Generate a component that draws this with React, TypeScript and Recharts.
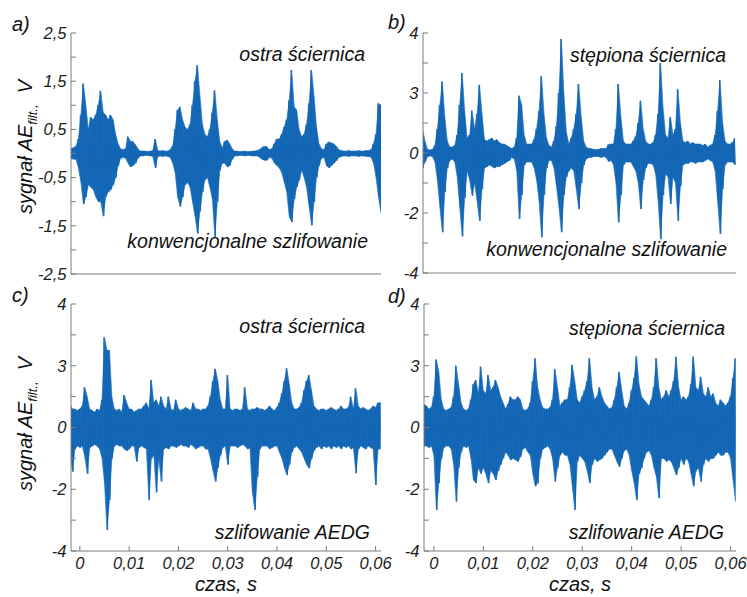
import React from 'react';
import { ComposedChart, Line, Area, XAxis, YAxis } from 'recharts';

// ---- time grid of the envelope samples (s) ----
const T0 = -0.002;
const DT = 0.0005;

// ---- x axis ticks ----
const timeTicks = [0, 0.01, 0.02, 0.03, 0.04, 0.05, 0.06];
const timeTickLabels = ['0', '0,01', '0,02', '0,03', '0,04', '0,05', '0,06'];

// ---- y axis ticks ----
const aTicks = [-2.5, -2, -1.5, -1, -0.5, 0, 0.5, 1, 1.5, 2, 2.5];
const aTickLabels = ['-2,5', '', '-1,5', '', '-0,5', '', '0,5', '', '1,5', '', '2,5'];
const vTicks = [-4, -3, -2, -1, 0, 1, 2, 3, 4];
const vTickLabels = ['-4', '', '-2', '', '0', '', '3', '', '4'];

// ---- a) ostra ściernica, konwencjonalne szlifowanie ----
const aUpper = [
  0.1, 0.1, 0.12, 0.15, 0.3, 0.8, 1.45, 1.0, 0.5, 0.75,
  0.7, 0.8, 1.0, 1.3, 0.85, 0.8, 0.7, 0.8, 0.7, 0.4,
  0.2, 0.1, 0.08, 0.1, 0.35, 0.25, 0.25, 0.18, 0.1, 0.05,
  0.05, 0.05, 0.04, 0.05, 0.06, 0.3, 0.06, 0.05, 0.06, 0.05,
  0.05, 0.08, 0.15, 0.5, 0.9, 0.97, 0.7, 0.55, 0.5, 0.6,
  1.0, 1.5, 1.83, 1.2, 0.6, 0.4, 0.35, 0.5, 0.85, 1.31,
  0.7, 0.25, 0.12, 0.25, 0.28, 0.2, 0.1, 0.05, 0.05, 0.04,
  0.04, 0.05, 0.04, 0.04, 0.05, 0.05, 0.06, 0.08, 0.12, 0.15,
  0.14, 0.08, 0.1, 0.2, 0.3, 0.3, 0.4, 0.55, 0.7, 1.1,
  1.73, 0.97, 0.9, 0.5, 0.35, 0.4, 0.6, 1.04, 1.73, 1.2,
  0.55, 0.2, 0.1, 0.08, 0.2, 0.24, 0.22, 0.2, 0.15, 0.08,
  0.06, 0.05, 0.05, 0.06, 0.05, 0.05, 0.05, 0.06, 0.05, 0.05,
  0.06, 0.06, 0.08, 0.2, 0.4, 1.04, 1.0,
];
const aLower = [
  -0.1, -0.1, -0.12, -0.12, -0.3, -0.6, -1.05, -0.9, -0.65, -0.7,
  -0.75, -0.9, -1.0, -1.0, -1.3, -0.9, -0.8, -0.75, -0.65, -0.5,
  -0.25, -0.1, -0.08, -0.1, -0.2, -0.28, -0.25, -0.2, -0.1, -0.05,
  -0.05, -0.04, -0.04, -0.05, -0.06, -0.3, -0.06, -0.05, -0.06, -0.05,
  -0.06, -0.08, -0.2, -0.4, -0.9, -1.1, -0.9, -0.65, -0.6, -0.7,
  -1.0, -1.3, -1.66, -1.2, -0.8, -0.55, -0.5, -0.7, -0.95, -1.73,
  -1.0, -0.35, -0.2, -0.2, -0.28, -0.25, -0.12, -0.05, -0.05, -0.04,
  -0.04, -0.05, -0.04, -0.04, -0.05, -0.05, -0.05, -0.08, -0.12, -0.14,
  -0.14, -0.08, -0.1, -0.2, -0.25, -0.3, -0.4, -0.6, -0.8, -1.31,
  -1.42, -0.95, -0.7, -0.55, -0.35, -0.5, -0.7, -1.1, -1.49, -1.0,
  -0.5, -0.25, -0.1, -0.08, -0.25, -0.3, -0.25, -0.2, -0.15, -0.08,
  -0.06, -0.05, -0.05, -0.06, -0.05, -0.05, -0.05, -0.06, -0.05, -0.05,
  -0.06, -0.06, -0.08, -0.2, -0.5, -0.9, -1.24,
];

// ---- b) stępiona ściernica, konwencjonalne szlifowanie ----
const bUpper = [
  0.8, 0.4, 0.12, 0.1, 0.12, 0.25, 0.8, 1.6, 2.38, 1.2,
  0.4, 0.2, 0.2, 0.25, 0.6, 1.6, 2.67, 1.4, 0.5, 0.6,
  1.41, 0.8, 1.3, 2.27, 1.3, 0.45, 0.4, 0.45, 0.5, 0.4,
  0.45, 0.35, 0.3, 0.3, 0.25, 0.2, 0.15, 0.2, 0.5, 1.91,
  1.6, 0.6, 0.3, 0.3, 0.3, 0.45, 0.8, 1.4, 2.56, 1.3,
  0.5, 0.25, 0.2, 0.4, 0.9, 2.0, 3.8, 2.0, 0.7, 0.3,
  0.5, 0.8, 1.3, 2.3, 1.2, 0.4, 0.2, 0.15, 0.15, 0.12,
  0.12, 0.12, 0.15, 0.15, 0.15, 0.28, 0.3, 0.3, 0.8, 2.3,
  1.2, 0.4, 0.3, 0.3, 0.3, 0.4, 0.55, 1.0, 1.74, 0.8,
  0.4, 0.3, 0.3, 0.35, 0.6, 1.3, 3.0, 1.5, 0.6, 0.5,
  1.2, 0.6, 0.8, 2.13, 1.0, 0.4, 0.35, 0.4, 0.3, 0.35,
  0.3, 0.3, 0.3, 0.25, 0.3, 0.2, 0.25, 0.3, 0.6, 1.4,
  2.43, 1.0, 0.4, 0.3, 0.3, 0.35, 0.5,
];
const bLower = [
  -0.5, -0.3, -0.12, -0.1, -0.12, -0.3, -0.9, -1.8, -2.64, -1.3,
  -0.5, -0.25, -0.2, -0.3, -0.8, -1.8, -2.78, -1.5, -0.6, -0.9,
  -1.42, -1.0, -1.6, -2.26, -1.2, -0.5, -0.45, -0.4, -0.45, -0.5,
  -0.45, -0.45, -0.4, -0.35, -0.3, -0.25, -0.15, -0.2, -0.6, -2.2,
  -1.4, -0.4, -0.3, -0.3, -0.3, -0.5, -0.9, -1.6, -2.81, -1.4,
  -0.5, -0.25, -0.25, -0.5, -1.1, -1.8, -2.64, -1.4, -0.8, -0.6,
  -0.5, -0.6, -1.2, -1.87, -1.0, -0.4, -0.2, -0.15, -0.15, -0.12,
  -0.12, -0.12, -0.15, -0.12, -0.15, -0.28, -0.25, -0.4, -1.0, -2.31,
  -1.4, -0.4, -0.3, -0.3, -0.3, -0.45, -0.6, -1.0, -1.87, -0.9,
  -0.5, -0.35, -0.35, -0.4, -0.7, -1.6, -2.87, -1.4, -0.7, -0.8,
  -1.7, -0.8, -1.0, -2.26, -1.1, -0.4, -0.35, -0.35, -0.3, -0.3,
  -0.35, -0.3, -0.3, -0.3, -0.25, -0.2, -0.25, -0.3, -0.6, -1.6,
  -2.7, -1.2, -0.4, -0.3, -0.3, -0.3, -0.4,
];

// ---- c) ostra ściernica, szlifowanie AEDG ----
const cUpper = [
  0.75, 0.6, 0.6, 0.55, 0.6, 0.7, 1.3, 1.0, 0.6, 0.55,
  0.5, 0.6, 0.55, 0.9, 2.92, 2.5, 2.5, 1.0, 0.6, 0.55,
  0.6, 0.5, 1.05, 0.8, 0.6, 0.6, 0.5, 0.55, 0.6, 0.6,
  0.7, 0.8, 0.6, 1.54, 0.8, 0.9, 0.7, 1.0, 0.7, 0.6,
  1.0, 0.6, 0.55, 0.9, 0.6, 0.55, 0.6, 0.65, 0.6, 0.55,
  0.8, 0.6, 0.6, 0.55, 0.6, 0.6, 0.7, 1.0, 1.5, 1.9,
  1.5, 0.9, 0.6, 0.6, 1.7, 0.6, 0.55, 0.6, 0.6, 0.55,
  0.6, 1.3, 0.6, 0.55, 0.6, 0.6, 0.65, 0.6, 0.6, 0.55,
  0.6, 0.7, 0.6, 0.55, 0.65, 0.8, 1.1, 1.5, 1.92, 1.4,
  0.8, 0.6, 0.6, 0.65, 0.8, 1.2, 1.5, 1.7, 1.2, 0.7,
  0.6, 0.55, 0.6, 0.6, 0.55, 0.6, 0.65, 0.6, 0.55, 0.6,
  0.7, 0.6, 0.6, 0.65, 1.0, 0.6, 1.27, 0.7, 0.6, 0.65,
  0.6, 0.55, 0.6, 0.7, 0.65, 0.8, 0.8,
];
const cLower = [
  -0.7, -1.43, -0.7, -0.6, -0.65, -0.6, -0.95, -1.5, -0.65, -0.6,
  -0.55, -0.6, -0.7, -1.0, -1.8, -3.32, -2.35, -1.0, -0.6, -0.55,
  -0.6, -0.6, -0.7, -0.75, -0.7, -0.6, -0.6, -1.1, -0.65, -0.6,
  -0.65, -0.7, -2.35, -1.0, -0.9, -2.1, -1.0, -1.75, -0.7, -0.65,
  -0.7, -0.6, -0.6, -0.65, -0.6, -0.55, -0.6, -0.6, -0.65, -0.55,
  -0.6, -0.7, -0.65, -0.6, -0.6, -0.7, -0.7, -1.0, -1.4, -1.75,
  -1.3, -0.9, -0.65, -0.6, -1.2, -0.6, -0.6, -0.6, -0.65, -0.6,
  -0.55, -0.6, -0.7, -0.65, -2.1, -2.67, -1.6, -0.7, -0.6, -0.6,
  -0.6, -0.7, -0.65, -0.6, -0.6, -0.8, -1.0, -1.3, -1.54, -1.2,
  -0.8, -0.65, -0.6, -0.7, -0.8, -1.0, -1.2, -1.32, -1.0, -0.75,
  -0.65, -0.6, -0.7, -0.6, -0.65, -0.6, -0.7, -0.6, -0.65, -0.6,
  -0.7, -0.6, -0.65, -0.6, -0.7, -0.65, -1.48, -0.7, -0.6, -0.65,
  -0.7, -0.6, -0.65, -0.7, -1.86, -0.7, -0.7,
];

// ---- d) stępiona ściernica, szlifowanie AEDG ----
const dUpper = [
  0.75, 0.7, 0.6, 0.65, 1.0, 2.2, 1.8, 0.9, 0.6, 0.55,
  0.6, 0.65, 1.0, 2.0, 1.4, 0.8, 0.6, 0.55, 0.6, 0.9,
  1.4, 1.54, 1.1, 1.97, 1.2, 1.1, 1.7, 1.2, 1.3, 1.54,
  1.3, 1.0, 0.8, 0.6, 0.75, 1.0, 0.9, 0.9, 1.0, 0.9,
  0.6, 0.55, 0.6, 0.8, 1.5, 2.24, 1.3, 0.9, 0.65, 0.6,
  0.6, 0.65, 0.9, 1.89, 1.3, 0.7, 0.8, 0.9, 0.9, 1.3,
  2.03, 1.5, 0.9, 0.8, 1.0, 1.2, 1.5, 2.24, 1.3, 0.9,
  1.0, 1.3, 1.0, 0.8, 0.7, 0.6, 0.65, 0.9, 1.3, 1.8,
  1.2, 0.7, 0.6, 0.8, 1.2, 1.6, 2.3, 1.4, 1.0, 0.9,
  0.8, 0.7, 0.9, 1.3, 2.24, 1.3, 0.9, 1.0, 1.2, 1.0,
  1.2, 1.5, 2.29, 1.3, 0.9, 1.0, 0.9, 1.0, 1.4, 2.29,
  1.3, 1.2, 1.64, 1.1, 1.0, 1.3, 1.0, 1.1, 0.8, 0.7,
  0.9, 0.8, 0.7, 0.8, 1.0, 1.6, 2.24,
];
const dLower = [
  -0.6, -0.6, -0.65, -0.6, -0.9, -2.67, -1.8, -1.0, -0.65, -0.6,
  -0.6, -0.7, -1.2, -2.4, -1.3, -0.8, -0.6, -0.65, -0.6, -1.0,
  -1.7, -1.8, -1.3, -1.5, -1.3, -1.5, -1.8, -1.4, -1.5, -1.7,
  -1.4, -1.2, -1.0, -0.8, -0.9, -1.05, -1.0, -1.05, -1.1, -0.95,
  -0.7, -0.65, -0.8, -0.9, -1.5, -1.9, -1.8, -1.0, -0.7, -0.65,
  -0.6, -0.7, -1.0, -1.75, -1.3, -0.9, -0.8, -0.9, -0.9, -1.2,
  -1.9, -2.67, -1.1, -0.9, -1.0, -1.1, -1.4, -1.8, -1.2, -1.0,
  -1.1, -1.05, -1.0, -0.9, -0.8, -0.7, -0.7, -0.9, -1.1, -1.27,
  -1.0, -0.75, -0.7, -0.9, -1.4, -1.8, -2.35, -1.5, -1.3, -1.0,
  -0.8, -0.75, -0.9, -1.3, -1.6, -2.29, -1.0, -1.0, -1.1, -1.05,
  -1.1, -1.3, -1.54, -1.3, -1.0, -1.2, -1.0, -1.1, -1.5, -1.9,
  -1.4, -1.3, -1.75, -1.2, -1.0, -1.1, -1.0, -1.0, -0.9, -0.8,
  -0.9, -0.9, -0.8, -0.8, -1.0, -1.7, -2.4,
];

// Filled band between the per-bin minimum and maximum.
function buildBand(upper: number[], lower: number[]) {
  const rows: { t: number; band: [number, number] }[] = [];
  const n = Math.min(upper.length, lower.length);
  for (let i = 0; i < n; i++) {
    rows.push({ t: T0 + i * DT, band: [lower[i], upper[i]] });
  }
  return rows;
}
// Oscillating trace: each bin swings up to its max and down to its min.
function buildTrace(upper: number[], lower: number[]) {
  const rows: { t: number; v: number }[] = [];
  const n = Math.min(upper.length, lower.length);
  for (let i = 0; i < n; i++) {
    const t = T0 + i * DT;
    rows.push({ t: t - DT / 4, v: upper[i] });
    rows.push({ t: t + DT / 4, v: lower[i] });
  }
  return rows;
}

const AXIS = '#7b7b7b';
const FILL = '#1a6dba';
const TRACE = '#0e62b0';
const FONT = '"Liberation Sans", Arial, sans-serif';
const TICK_STYLE = { fontSize: 16.5, fill: '#1c1c1c', fontStyle: 'italic', fontFamily: FONT };

type PanelProps = {
  left: number; top: number; width: number; height: number;
  marginTop: number; marginRight: number; yAxisWidth: number; xAxisHeight: number;
  xDomain: [number, number]; yDomain: [number, number];
  yTicks: number[]; yLabels: string[]; showXLabels: boolean;
  upper: number[]; lower: number[];
};

function Panel(p: PanelProps) {
  const band = buildBand(p.upper, p.lower);
  const trace = buildTrace(p.upper, p.lower);
  const yFmt = (v: number) => {
    const k = p.yTicks.indexOf(v);
    return k >= 0 ? p.yLabels[k] : '';
  };
  const xFmt = (v: number) => {
    const k = timeTicks.indexOf(v);
    return k >= 0 ? timeTickLabels[k] : '';
  };
  return (
    <div style={{ position: 'absolute', left: p.left, top: p.top }}>
      <ComposedChart
        width={p.width}
        height={p.height}
        data={band}
        margin={{ top: p.marginTop, right: p.marginRight, bottom: 0, left: 0 }}
      >
        <XAxis
          dataKey="t"
          type="number"
          domain={p.xDomain}
          allowDataOverflow
          ticks={timeTicks}
          tickFormatter={xFmt}
          interval={0}
          height={p.xAxisHeight}
          tick={p.showXLabels ? TICK_STYLE : false}
          tickSize={-5}
          tickMargin={11}
          axisLine={{ stroke: AXIS }}
          tickLine={{ stroke: AXIS }}
        />
        <XAxis
          xAxisId="top"
          orientation="top"
          type="number"
          domain={p.xDomain}
          allowDataOverflow
          ticks={timeTicks}
          interval={0}
          height={0}
          tick={false}
          tickSize={-5}
          axisLine={{ stroke: AXIS }}
          tickLine={{ stroke: AXIS }}
        />
        <YAxis
          type="number"
          domain={p.yDomain}
          allowDataOverflow
          ticks={p.yTicks}
          tickFormatter={yFmt}
          interval={0}
          width={p.yAxisWidth}
          tick={TICK_STYLE}
          tickSize={-5}
          tickMargin={9.5}
          axisLine={{ stroke: AXIS }}
          tickLine={{ stroke: AXIS }}
        />
        <YAxis
          yAxisId="right"
          orientation="right"
          type="number"
          domain={p.yDomain}
          allowDataOverflow
          ticks={p.yTicks}
          interval={0}
          width={0}
          tick={false}
          tickSize={-5}
          axisLine={{ stroke: AXIS }}
          tickLine={{ stroke: AXIS }}
        />
        <Area
          dataKey="band"
          type="linear"
          stroke={FILL}
          strokeWidth={0.6}
          fill={FILL}
          fillOpacity={1}
          dot={false}
          activeDot={false}
          isAnimationActive={false}
        />
        <Line
          data={trace}
          dataKey="v"
          type="linear"
          stroke={TRACE}
          strokeWidth={0.7}
          dot={false}
          activeDot={false}
          isAnimationActive={false}
        />
      </ComposedChart>
    </div>
  );
}

function YTitle({ cx, cy }: { cx: number; cy: number }) {
  return (
    <text transform={`translate(${cx}, ${cy}) rotate(-90)`} textAnchor="middle" fontSize={20}>
      sygnał AE
      <tspan fontSize={13} dy={5}>filt.,</tspan>
      <tspan fontSize={20} dy={-5}>{'\u00a0\u00a0V'}</tspan>
    </text>
  );
}

export default function App() {
  return (
    <div
      style={{
        position: 'absolute', left: 0, top: 0, width: 747, height: 597,
        background: '#fff', fontFamily: FONT, fontStyle: 'italic', overflow: 'hidden',
      }}
    >
      <Panel left={0} top={0} width={400} height={300} marginTop={33} marginRight={19}
        yAxisWidth={71} xAxisHeight={26} xDomain={[-0.0015, 0.061]} yDomain={[-2.5, 2.5]}
        yTicks={aTicks} yLabels={aTickLabels} showXLabels={false} upper={aUpper} lower={aLower} />
      <Panel left={370} top={0} width={377} height={300} marginTop={33} marginRight={11}
        yAxisWidth={53} xAxisHeight={27} xDomain={[-0.0019, 0.0612]} yDomain={[-4, 4]}
        yTicks={vTicks} yLabels={vTickLabels} showXLabels={false} upper={bUpper} lower={bLower} />
      <Panel left={0} top={290} width={400} height={307} marginTop={14} marginRight={19}
        yAxisWidth={71} xAxisHeight={46} xDomain={[-0.0018, 0.0611]} yDomain={[-4, 4]}
        yTicks={vTicks} yLabels={vTickLabels} showXLabels={true} upper={cUpper} lower={cLower} />
      <Panel left={370} top={290} width={377} height={307} marginTop={14} marginRight={11}
        yAxisWidth={54} xAxisHeight={46} xDomain={[-0.002, 0.0611]} yDomain={[-4, 4]}
        yTicks={vTicks} yLabels={vTickLabels} showXLabels={true} upper={dUpper} lower={dLower} />

      <svg width={747} height={597} style={{ position: 'absolute', left: 0, top: 0, pointerEvents: 'none' }}
        fontFamily={FONT} fontStyle="italic" fill="#111">
        <text x={12} y={31} fontSize={20}>a)</text>
        <text x={388} y={29} fontSize={20}>b)</text>
        <text x={12} y={302} fontSize={20}>c)</text>
        <text x={388} y={303} fontSize={20}>d)</text>

        <text x={365} y={61} fontSize={19.5} textAnchor="end">ostra ściernica</text>
        <text x={368} y={248} fontSize={19.5} textAnchor="end">konwencjonalne szlifowanie</text>
        <text x={726} y={62} fontSize={19.5} textAnchor="end">stępiona ściernica</text>
        <text x={727} y={256} fontSize={19.5} textAnchor="end">konwencjonalne szlifowanie</text>
        <text x={365} y={333} fontSize={19.5} textAnchor="end">ostra ściernica</text>
        <text x={370} y={539} fontSize={19.5} textAnchor="end">szlifowanie AEDG</text>
        <text x={725} y={335} fontSize={19.5} textAnchor="end">stępiona ściernica</text>
        <text x={724} y={539} fontSize={19.5} textAnchor="end">szlifowanie AEDG</text>

        <YTitle cx={32} cy={147} />
        <YTitle cx={32} cy={424} />

        <text x={226} y={591} fontSize={20} textAnchor="middle">czas, s</text>
        <text x={580} y={591} fontSize={20} textAnchor="middle">czas, s</text>
      </svg>
    </div>
  );
}
